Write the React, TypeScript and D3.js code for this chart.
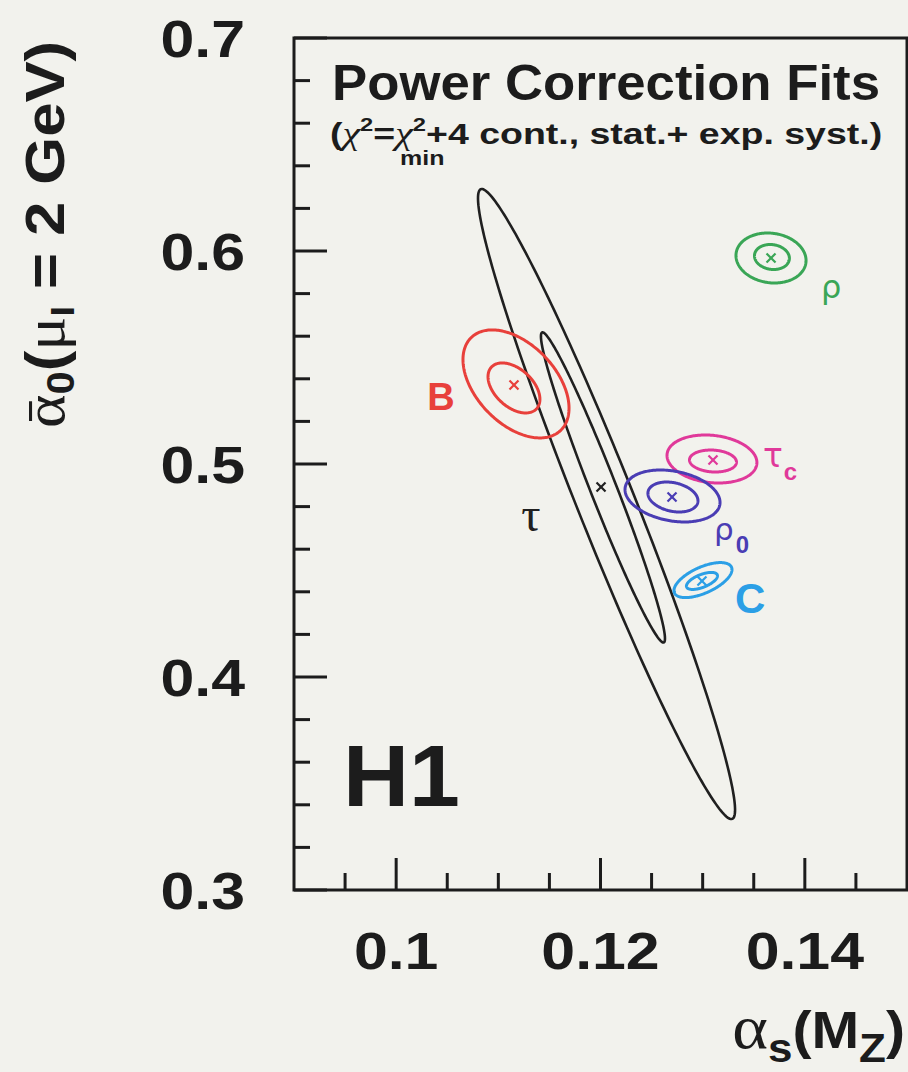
import React from 'react';
import * as d3 from 'd3';

const W = 908;
const H = 1072;

// Best-fit points of the power-correction fits in the (alpha_s(MZ), alpha0) plane
const fitLabels = ['τ', 'B', 'τc', 'ρ0', 'C', 'ρ'];
const fitColors = ['#202020', '#e8403b', '#e0399a', '#4a3db4', '#2b9fe6', '#3aa656'];
const bestAlphaS = [0.12005, 0.11153, 0.13101, 0.127, 0.12993, 0.13669];
const bestAlpha0 = [0.4892, 0.5371, 0.5019, 0.4845, 0.4451, 0.5967];

// Confidence contours (Δχ² = 1 and Δχ² = 4) for each fit:
// centre, half-extent along each parameter and correlation coefficient
const contourFit = [0, 0, 1, 1, 2, 2, 3, 3, 4, 4, 5, 5];
const contourAlphaS = [0.12024, 0.12059, 0.11153, 0.11173, 0.13101, 0.13091, 0.12709, 0.12705, 0.12993, 0.13003, 0.13678, 0.13669];
const contourAlpha0 = [0.489, 0.4812, 0.5357, 0.5376, 0.5014, 0.50235, 0.4845, 0.48498, 0.4451, 0.4455, 0.59718, 0.59671];
const contourHalfS = [0.00607, 0.01258, 0.00254, 0.00519, 0.0023, 0.0044, 0.00245, 0.00465, 0.00152, 0.00284, 0.00171, 0.00343];
const contourHalfA = [0.0728, 0.1479, 0.01174, 0.02535, 0.00516, 0.01127, 0.00704, 0.0122, 0.004, 0.00822, 0.00587, 0.01174];
const contourRho = [-0.974, -0.9706, -0.45, -0.45, -0.1, -0.15, -0.25, -0.25, 0.6, 0.6, -0.1, -0.1];

// Axis ticks
const xMajorTicks = [0.1, 0.12, 0.14];
const xMinorTicks = [0.095, 0.105, 0.11, 0.115, 0.125, 0.13, 0.135, 0.145];
const yMajorTicks = [0.3, 0.4, 0.5, 0.6, 0.7];
const yMinorTicks = [0.32, 0.34, 0.36, 0.38, 0.42, 0.44, 0.46, 0.48, 0.52, 0.54, 0.56, 0.58, 0.62, 0.64, 0.66, 0.68];
const xTickLabels = ['0.1', '0.12', '0.14'];
const yTickLabels = ['0.3', '0.4', '0.5', '0.6', '0.7'];

const SANS = '"Liberation Sans", Arial, Helvetica, sans-serif';
const SERIF = '"Liberation Serif", "DejaVu Serif", serif';
const GREEK = '"DejaVu Sans", sans-serif';

const frame = { left: 294, right: 907, top: 38, bottom: 890 };

const x = d3.scaleLinear().domain([0.09, 0.15]).range([frame.left, frame.right]);
const y = d3.scaleLinear().domain([0.3, 0.7]).range([frame.bottom, frame.top]);

function ellipse(cx: number, cy: number, sx: number, sy: number, r: number, n = 240): [number, number][] {
  const q = Math.sqrt(1 - r * r);
  return d3.range(n).map((i) => {
    const t = (2 * Math.PI * i) / n;
    return [cx + sx * Math.cos(t), cy + sy * (r * Math.cos(t) + q * Math.sin(t))] as [number, number];
  });
}

const contourLine = d3
  .line<[number, number]>()
  .x((d) => x(d[0]))
  .y((d) => y(d[1]))
  .curve(d3.curveLinearClosed);

function Stretch({ x0, y0, sx, children }: { x0: number; y0: number; sx: number; children: React.ReactNode }) {
  return <g transform={`translate(${x0},${y0}) scale(${sx},1)`}>{children}</g>;
}

function FitLabel({ i }: { i: number }) {
  const px = x(bestAlphaS[i]);
  const py = y(bestAlpha0[i]);
  const c = fitColors[i];
  switch (fitLabels[i]) {
    case 'τ':
      return (
        <text x={px - 70} y={py + 44} fontFamily={SERIF} fontSize={48} fill={c} textAnchor="middle">
          τ
        </text>
      );
    case 'B':
      return (
        <text x={px - 73} y={py + 25} fontFamily={SANS} fontWeight="bold" fontSize={38} fill={c} textAnchor="middle">
          B
        </text>
      );
    case 'τc':
      return (
        <text x={px + 50} y={py + 7} fill={c}>
          <tspan fontFamily={GREEK} fontSize={33}>τ</tspan>
          <tspan fontFamily={SANS} fontWeight="bold" fontSize={24} dy={13} dx={1}>c</tspan>
        </text>
      );
    case 'ρ0':
      return (
        <text x={px + 42} y={py + 43} fill={c}>
          <tspan fontFamily={GREEK} fontSize={31}>ρ</tspan>
          <tspan fontFamily={SANS} fontWeight="bold" fontSize={24} dy={13} dx={2}>0</tspan>
        </text>
      );
    case 'C':
      return (
        <text x={px + 33} y={py + 32} fontFamily={SANS} fontWeight="bold" fontSize={42} fill={c}>
          C
        </text>
      );
    default:
      return (
        <text x={px + 50} y={py + 40} fontFamily={GREEK} fontSize={32} fill={c}>
          ρ
        </text>
      );
  }
}

export default function App() {
  const stroke = '#1c1c1c';
  return (
    <svg
      width={W}
      height={H}
      viewBox={`0 0 ${W} ${H}`}
      style={{ position: 'absolute', left: 0, top: 0, display: 'block' }}
    >
      <rect x={0} y={0} width={W} height={H} fill="#f2f2ed" />

      {/* plot frame */}
      <rect
        x={frame.left}
        y={frame.top}
        width={frame.right - frame.left}
        height={frame.bottom - frame.top}
        fill="none"
        stroke={stroke}
        strokeWidth={3}
      />

      {/* x ticks */}
      {xMajorTicks.map((t) => (
        <line key={`xM${t}`} x1={x(t)} x2={x(t)} y1={frame.bottom} y2={frame.bottom - 32} stroke={stroke} strokeWidth={3} />
      ))}
      {xMinorTicks.map((t) => (
        <line key={`xm${t}`} x1={x(t)} x2={x(t)} y1={frame.bottom} y2={frame.bottom - 17} stroke={stroke} strokeWidth={3} />
      ))}
      {/* y ticks */}
      {yMajorTicks.map((t) => (
        <line key={`yM${t}`} x1={frame.left} x2={frame.left + 33} y1={y(t)} y2={y(t)} stroke={stroke} strokeWidth={3} />
      ))}
      {yMinorTicks.map((t) => (
        <line key={`ym${t}`} x1={frame.left} x2={frame.left + 16} y1={y(t)} y2={y(t)} stroke={stroke} strokeWidth={3} />
      ))}

      {/* tick labels */}
      {xMajorTicks.map((t, i) => (
        <Stretch key={`xl${t}`} x0={x(t)} y0={969} sx={1.17}>
          <text x={0} y={0} textAnchor="middle" fontFamily={SANS} fontWeight="bold" fontSize={52} fill="#1c1c1c">
            {xTickLabels[i]}
          </text>
        </Stretch>
      ))}
      {yMajorTicks.map((t, i) => (
        <Stretch key={`yl${t}`} x0={245} y0={y(t) + 19} sx={1.17}>
          <text x={0} y={0} textAnchor="end" fontFamily={SANS} fontWeight="bold" fontSize={52} fill="#1c1c1c">
            {yTickLabels[i]}
          </text>
        </Stretch>
      ))}

      {/* axis titles */}
      <Stretch x0={905} y0={1048} sx={1.1}>
        <text x={0} y={0} textAnchor="end" fill="#1c1c1c">
          <tspan fontFamily={SERIF} fontSize={62}>α</tspan>
          <tspan fontFamily={SANS} fontWeight="bold" fontSize={40} dy={14}>s</tspan>
          <tspan fontFamily={SANS} fontWeight="bold" fontSize={52} dy={-14}>(M</tspan>
          <tspan fontFamily={SANS} fontWeight="bold" fontSize={40} dy={14}>Z</tspan>
          <tspan fontFamily={SANS} fontWeight="bold" fontSize={52} dy={-14}>)</tspan>
        </text>
      </Stretch>
      <g transform="translate(64,428) rotate(-90) scale(1.1,1)">
        <text x={0} y={0} fill="#1c1c1c">
          <tspan fontFamily={SERIF} fontSize={58}>ᾱ</tspan>
          <tspan fontFamily={SANS} fontWeight="bold" fontSize={38} dy={10}>0</tspan>
          <tspan fontFamily={SANS} fontWeight="bold" fontSize={56} dy={-10}>(</tspan>
          <tspan fontFamily={SERIF} fontSize={58}>μ</tspan>
          <tspan fontFamily={SANS} fontWeight="bold" fontSize={34} dy={10}>I</tspan>
          <tspan fontFamily={SANS} fontWeight="bold" fontSize={56} dy={-10}> = 2 GeV)</tspan>
        </text>
      </g>

      {/* title and subtitle */}
      <text
        x={332}
        y={100}
        fontFamily={SANS}
        fontWeight="bold"
        fontSize={50}
        fill="#1c1c1c"
        textLength={548}
        lengthAdjust="spacingAndGlyphs"
      >
        Power Correction Fits
      </text>
      <Stretch x0={330} y0={144} sx={1.25}>
        <text x={0} y={0} fill="#1c1c1c" fontFamily={SANS} fontWeight="bold" fontSize={30}>
          <tspan>(</tspan>
          <tspan fontFamily={SERIF} fontStyle="italic" fontWeight="normal" fontSize={32}>χ</tspan>
          <tspan fontSize={19} dy={-13}>2</tspan>
          <tspan dy={13}>=</tspan>
          <tspan fontFamily={SERIF} fontStyle="italic" fontWeight="normal" fontSize={32}>χ</tspan>
          <tspan fontSize={19} dy={-13}>2</tspan>
          <tspan dy={13}>+4 cont., stat.+ exp. syst.)</tspan>
        </text>
        <text x={56} y={21} fill="#1c1c1c" fontFamily={SANS} fontWeight="bold" fontSize={20}>
          min
        </text>
      </Stretch>

      {/* experiment label */}
      <Stretch x0={343} y0={806} sx={1.04}>
        <text x={0} y={0} fontFamily={SANS} fontWeight="bold" fontSize={88} fill="#1c1c1c">
          H1
        </text>
      </Stretch>

      {/* contours */}
      {contourFit.map((f, k) => (
        <path
          key={`c${k}`}
          d={contourLine(ellipse(contourAlphaS[k], contourAlpha0[k], contourHalfS[k], contourHalfA[k], contourRho[k])) || ''}
          fill="none"
          stroke={fitColors[f]}
          strokeWidth={f === 0 ? 2.6 : 3}
        />
      ))}

      {/* best-fit markers */}
      {bestAlphaS.map((a, i) => {
        const px = x(a);
        const py = y(bestAlpha0[i]);
        const s = 4.5;
        return (
          <g key={`m${i}`} stroke={fitColors[i]} strokeWidth={2.2}>
            <line x1={px - s} x2={px + s} y1={py - s} y2={py + s} />
            <line x1={px - s} x2={px + s} y1={py + s} y2={py - s} />
          </g>
        );
      })}

      {/* fit labels */}
      {fitLabels.map((_, i) => (
        <FitLabel key={`l${i}`} i={i} />
      ))}
    </svg>
  );
}
